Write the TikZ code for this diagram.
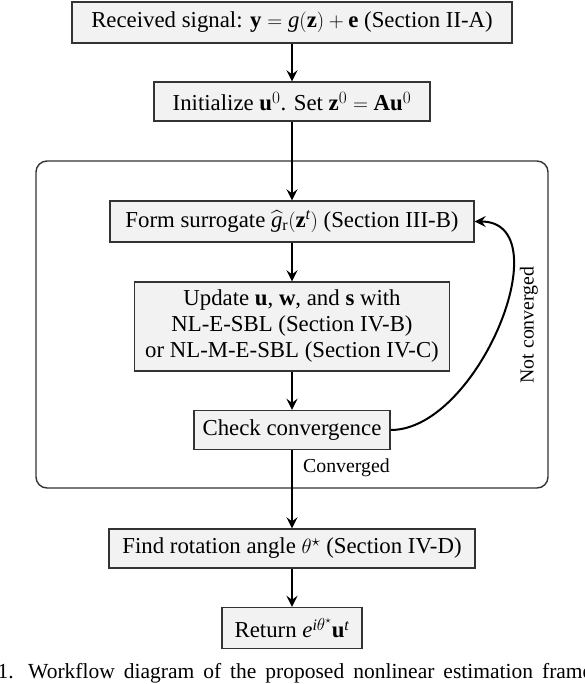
\documentclass[tikz,border=0pt]{standalone}
\usepackage{amsmath}
\usepackage{fontspec}
\setmainfont{Liberation Serif}
\usetikzlibrary{arrows.meta}
\definecolor{boxfill}{gray}{0.95}
\definecolor{edge}{gray}{0.2}
\newcommand{\fsz}{\fontsize{22.8}{26}\selectfont}
\newcommand{\lsz}{\fontsize{19.8}{23}\selectfont}
\newcommand{\csz}{\fontsize{21.5}{25}\selectfont}
\begin{document}
\begin{tikzpicture}[x=1pt,y=-1pt,
  stepbox/.style={draw=edge, line width=1.4pt, fill=boxfill, inner xsep=8pt, inner ysep=0pt, font=\fsz, align=center},
  loopbox/.style={draw=edge, line width=1.4pt, rounded corners=11pt, inner sep=0pt},
  arr/.style={-{Stealth[length=11pt,width=11pt,inset=4pt]}, line width=2pt},
  lbl/.style={font=\lsz, inner sep=0pt}]
\useasboundingbox (0,0) rectangle (584,684);
\node[loopbox, minimum width=512pt, minimum height=327pt] (loop) at (292,324.5) {};
\node[stepbox, minimum width=440pt, minimum height=41pt] (b1) at (292,22.5) {Received signal: $\mathbf{y}=\mathit{g}(\mathbf{z})+\mathbf{e}$ (Section II-A)};
\node[stepbox, minimum width=276pt, minimum height=39pt] (b2) at (292,101.5) {Initialize $\mathbf{u}^0$. Set $\mathbf{z}^0=\mathbf{A}\mathbf{u}^0$};
\node[stepbox, minimum width=364pt, minimum height=41pt] (b3) at (292,221.5) {Form surrogate $\widehat{\mathit{g}}_{\mathrm{r}}(\mathbf{z}^{\mathit{t}})$ (Section III-B)};
\node[stepbox, minimum width=315pt, minimum height=89pt] (b4) at (292,326.5) {Update $\mathbf{u}$, $\mathbf{w}$, and $\mathbf{s}$ with\\NL-E-SBL (Section IV-B)\\or NL-M-E-SBL (Section IV-C)};
\node[stepbox, minimum width=196pt, minimum height=39pt] (b5) at (292,430) {Check convergence};
\node[stepbox, minimum width=366pt, minimum height=39pt] (b6) at (292,548.5) {Find rotation angle $\theta^\star$ (Section IV-D)};
\node[stepbox, minimum width=140pt, minimum height=41pt] (b7) at (292,628) {Return $\mathit{e}^{\mathit{i}\theta^\star}\mathbf{u}^{\mathit{t}}$};
\draw[arr] (b1) -- (b2);
\draw[arr] (b2) -- (b3);
\draw[arr] (b3) -- (b4);
\draw[arr] (b4) -- (b5);
\draw[arr] (b5) -- (b6);
\draw[arr] (b6) -- (b7);
\draw[arr] (b5.east) to[out=0, in=0, looseness=1.0] (b3.east);
\node[lbl, anchor=west] (conv) at (303,468) {Converged};
\node[lbl, rotate=90] (nconv) at (529,325) {Not converged};
\node[font=\csz, anchor=base west, inner sep=0pt] (cap) at (28,678) {\spaceskip=9pt Workflow diagram of the proposed nonlinear estimation framework.};
\node[font=\csz, anchor=base east, inner sep=0pt] (fig) at (14,678) {Fig.~1.};
\end{tikzpicture}
\end{document}
